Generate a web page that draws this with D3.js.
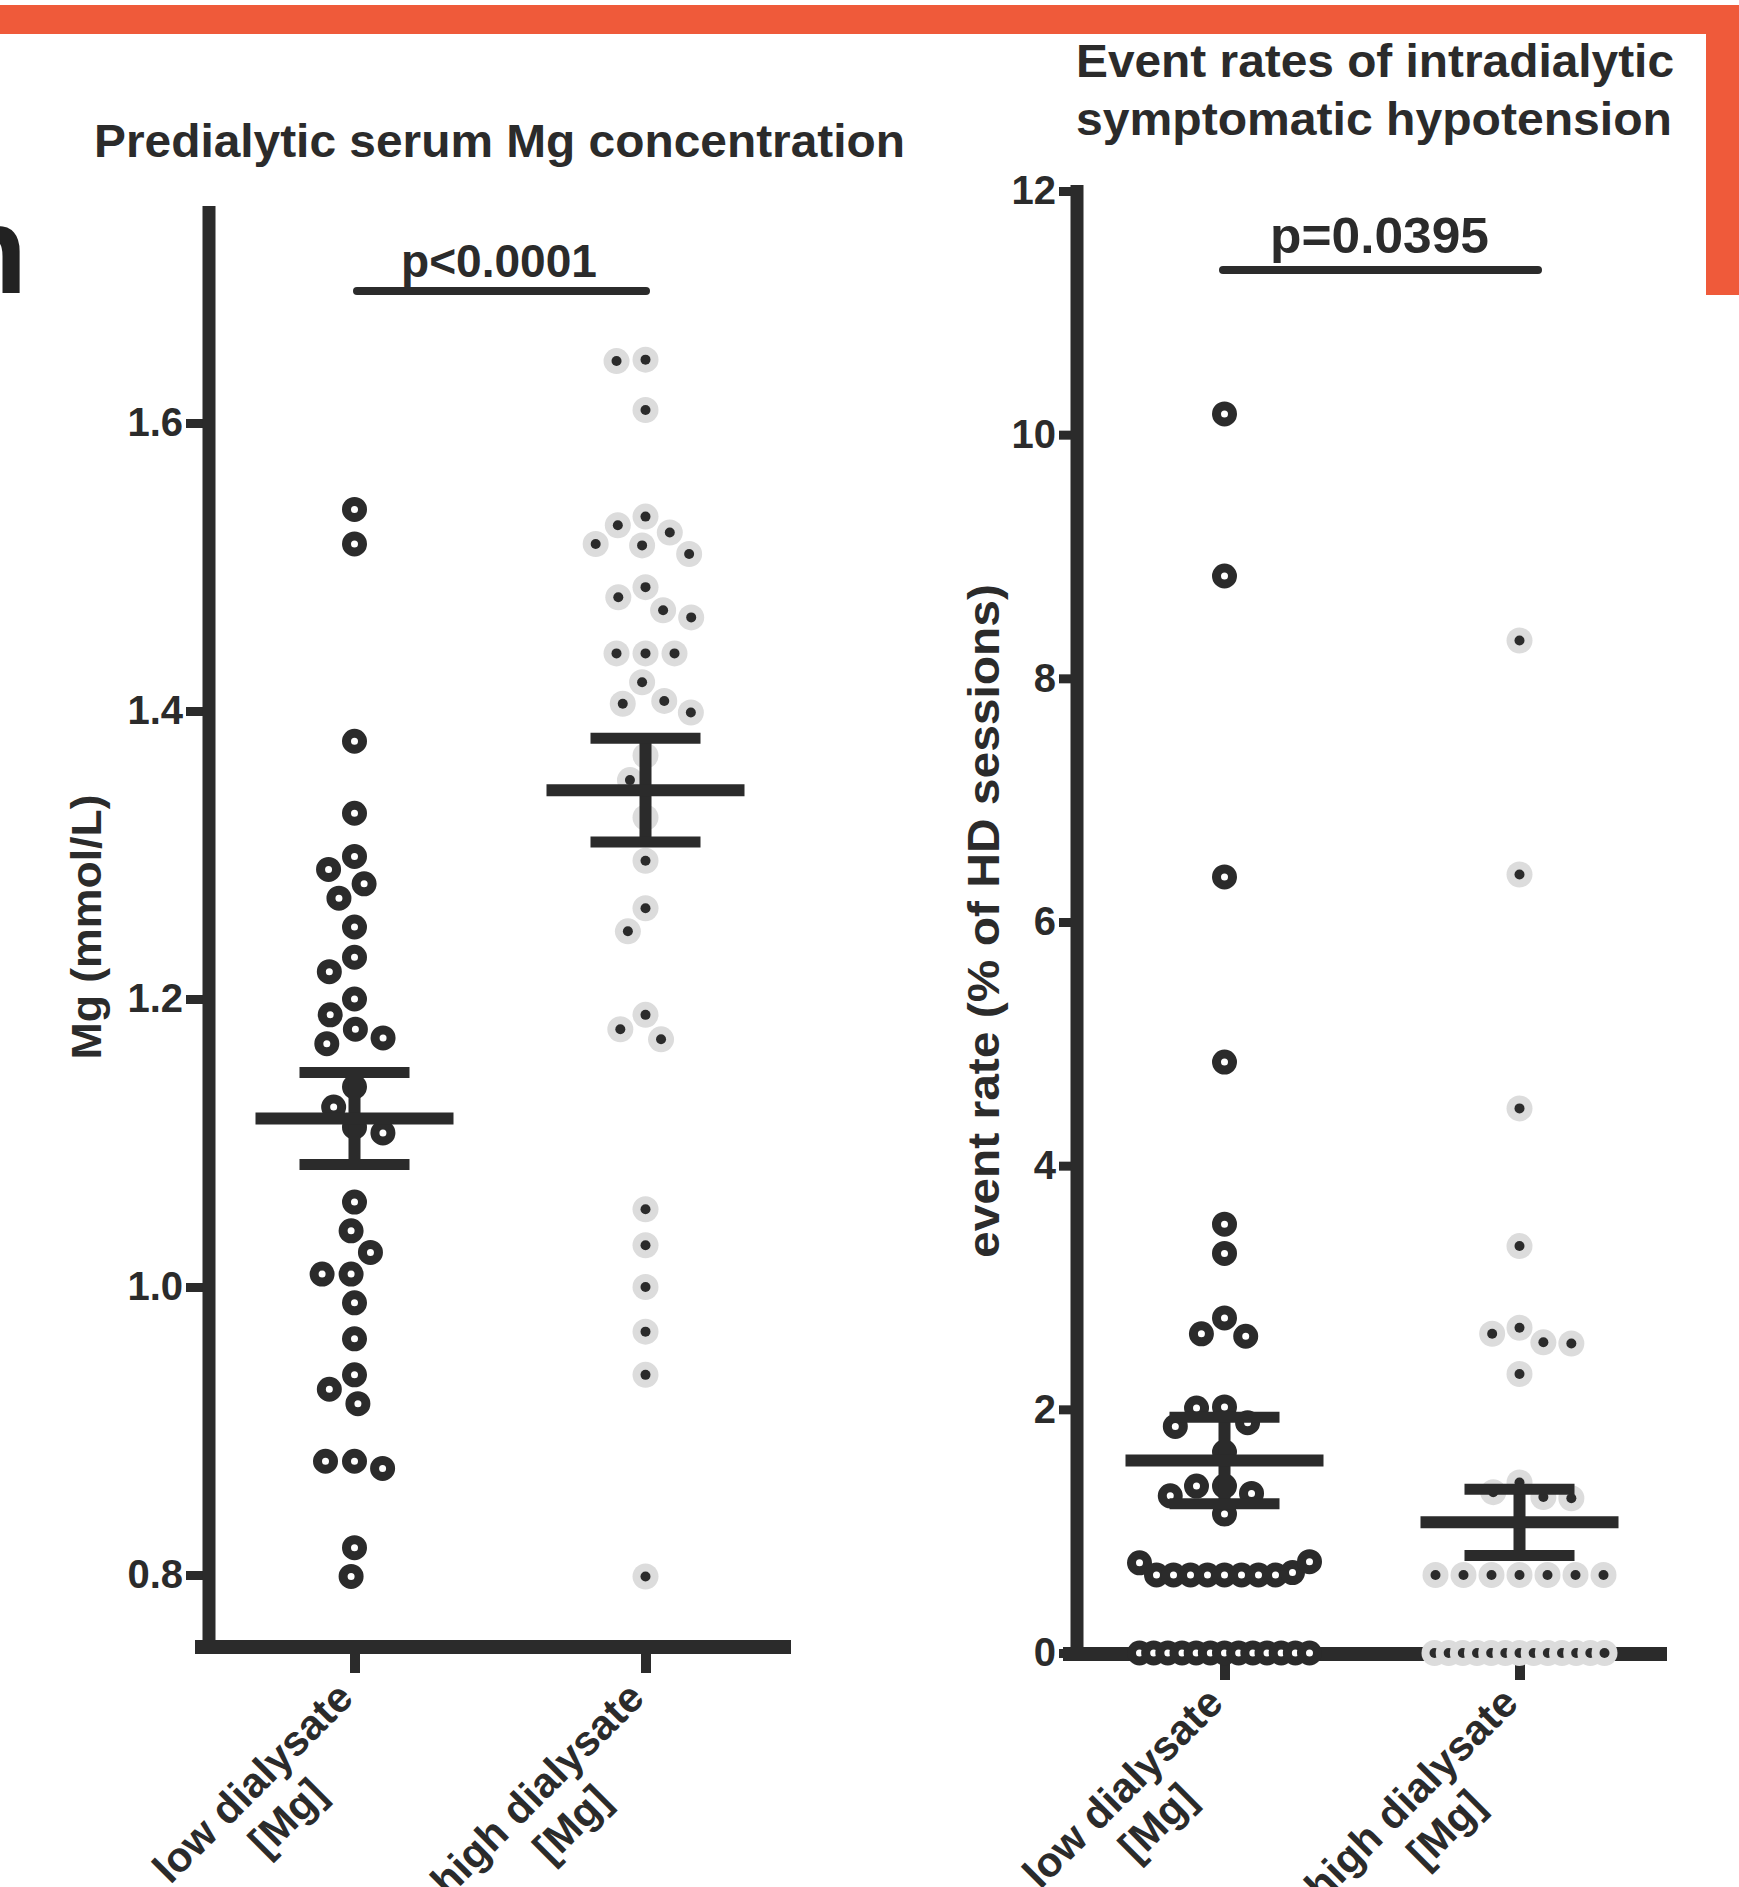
<!DOCTYPE html>
<html>
<head>
<meta charset="utf-8">
<script src="https://cdn.jsdelivr.net/npm/d3@7.9.0/dist/d3.min.js"></script>
<style>
  html, body { margin: 0; padding: 0; background: #fff; }
  svg { display: block; font-family: "Liberation Sans", Arial, sans-serif; }
</style>
</head>
<body>
<script>
// values
const groups = ["low", "high"];
const groupLines = [["low dialysate", "[Mg]"], ["high dialysate", "[Mg]"]];

const mgLow = [1.540, 1.516, 1.379, 1.329, 1.299, 1.290, 1.280, 1.270, 1.250, 1.229, 1.219, 1.200,
  1.189, 1.179, 1.173, 1.169, 1.139, 1.125, 1.111, 1.107, 1.059, 1.039, 1.024, 1.009, 1.009,
  0.989, 0.964, 0.939, 0.929, 0.919, 0.879, 0.879, 0.874, 0.819, 0.799];
const mgHigh = [1.644, 1.643, 1.609, 1.535, 1.529, 1.524, 1.516, 1.515, 1.509, 1.486, 1.479,
  1.470, 1.465, 1.440, 1.440, 1.440, 1.420, 1.407, 1.405, 1.399, 1.369, 1.352, 1.326, 1.296,
  1.263, 1.247, 1.189, 1.179, 1.172, 1.054, 1.029, 1.000, 0.969, 0.939, 0.799];
const mgMean = [1.117, 1.345];
const mgSem = [0.032, 0.036];
const mgTicks = [0.8, 1.0, 1.2, 1.4, 1.6];

const rateLow = [10.17, 8.84, 6.37, 4.85, 3.52, 3.28, 2.75, 2.62, 2.60, 2.02, 2.01, 1.89, 1.86,
  1.65, 1.37, 1.37, 1.31, 1.29, 1.14, 0.75, 0.74, 0.66, 0.64, 0.64, 0.64, 0.64, 0.64, 0.64,
  0.64, 0.64, 0, 0, 0, 0, 0, 0, 0, 0, 0, 0, 0, 0, 0];
const rateHigh = [8.31, 6.39, 4.47, 3.34, 2.67, 2.62, 2.55, 2.54, 2.29, 1.40, 1.32, 1.28, 1.27,
  0.64, 0.64, 0.64, 0.64, 0.64, 0.64, 0.64, 0, 0, 0, 0, 0, 0, 0, 0, 0, 0, 0, 0, 0];
const rateMean = [1.58, 1.073];
const rateSem = [0.355, 0.272];
const rateTicks = [0, 2, 4, 6, 8, 10, 12];

const ink = "#2b2b2b";
const W = 1739, H = 1887;

const svg = d3.select("body").append("svg")
    .attr("width", W)
    .attr("height", H);

// orange frame at the top and right edge
svg.append("rect").attr("x", 0).attr("y", 5).attr("width", W).attr("height", 29).attr("fill", "#ef5a3a");
svg.append("rect").attr("x", 1706).attr("y", 5).attr("width", 33).attr("height", 290).attr("fill", "#ef5a3a");

// cut-off panel letter at the left edge
svg.append("text")
    .attr("x", -49).attr("y", 293)
    .attr("font-size", 125).attr("font-weight", "bold").attr("fill", "#222")
    .text("n");

// simple beeswarm: dense rows get squeezed, everything else is placed greedily
function swarm(values, y, D, halfW) {
    const pts = values.map(v => ({ v, y: y(v), x: 0 })).sort((a, b) => a.y - b.y);
    const clusters = [];
    let i = 0;
    while (i < pts.length) {
        let j = i;
        while (j + 1 < pts.length && pts[j + 1].y - pts[i].y < 14) j++;
        clusters.push(pts.slice(i, j + 1));
        i = j + 1;
    }
    const placed = [];
    clusters.filter(c => c.length >= 6).forEach(c => {
        const n = c.length;
        const s = Math.min(D, 2 * halfW / (n - 1));
        const slots = d3.range(n).map(k => (k - (n - 1) / 2) * s)
            .sort((a, b) => Math.abs(a) - Math.abs(b) || a - b);
        c.slice().sort((a, b) => b.y - a.y).forEach((p, k) => { p.x = slots[k]; placed.push(p); });
    });
    clusters.filter(c => c.length < 6).flat().forEach(p => {
        const cands = [0];
        placed.forEach(q => {
            const dy = Math.abs(q.y - p.y);
            if (dy < D) {
                const dx = Math.sqrt(D * D - dy * dy);
                cands.push(q.x - dx, q.x + dx);
            }
        });
        cands.sort((a, b) => Math.abs(a) - Math.abs(b) || a - b);
        const ok = cands.find(x => placed.every(q => (q.x - x) ** 2 + (q.y - p.y) ** 2 >= D * D - 0.5));
        p.x = ok ?? 0;
        placed.push(p);
    });
    return pts.sort((a, b) => a.x - b.x);
}

function drawPanel(cfg) {
    const g = svg.append("g");
    const x = d3.scalePoint().domain(groups).range([cfg.axisX, cfg.xEnd]).padding(0.5);
    const y = cfg.y;

    // y ticks and labels
    g.append("g")
        .attr("transform", `translate(${cfg.axisX},0)`)
        .call(d3.axisLeft(y).tickValues(cfg.ticks).tickFormat(cfg.fmt).tickSize(cfg.tickSize).tickPadding(3))
        .call(a => a.select(".domain").remove())
        .call(a => a.selectAll(".tick line").attr("stroke", ink).attr("stroke-width", 9))
        .call(a => a.selectAll(".tick text")
            .attr("fill", ink).attr("font-size", 40).attr("font-weight", "bold")
            .attr("font-family", "'Liberation Sans', Arial, sans-serif"));

    // x ticks
    g.append("g")
        .attr("transform", `translate(0,${cfg.xAxisY})`)
        .call(d3.axisBottom(x).tickSize(26).tickFormat(""))
        .call(a => a.select(".domain").remove())
        .call(a => a.selectAll(".tick line").attr("stroke", ink).attr("stroke-width", 10));

    // axis lines
    g.append("line")
        .attr("x1", cfg.axisX).attr("x2", cfg.axisX)
        .attr("y1", cfg.yTop).attr("y2", cfg.xAxisY + 6)
        .attr("stroke", ink).attr("stroke-width", 13);
    g.append("line")
        .attr("x1", cfg.axisX - 14).attr("x2", cfg.xEnd)
        .attr("y1", cfg.xAxisY).attr("y2", cfg.xAxisY)
        .attr("stroke", ink).attr("stroke-width", 14);

    // points
    cfg.data.forEach((vals, i) => {
        const pts = swarm(vals, y, cfg.D, 85);
        const cx = x(groups[i]);
        const dots = g.append("g").selectAll("g")
            .data(pts)
            .join("g")
            .attr("transform", d => `translate(${cx + d.x},${d.y})`);
        if (i === 0) {
            dots.append("circle").attr("r", 8).attr("fill", "#fff")
                .attr("stroke", ink).attr("stroke-width", 9);
        } else {
            dots.append("circle").attr("r", 13).attr("fill", "#dcdcdc");
            dots.append("circle").attr("r", 5).attr("fill", ink);
        }
    });

    // mean and SEM
    groups.forEach((grp, i) => {
        const cx = x(grp);
        const m = cfg.mean[i], s = cfg.sem[i];
        g.append("line")
            .attr("x1", cx).attr("x2", cx).attr("y1", y(m + s)).attr("y2", y(m - s))
            .attr("stroke", ink).attr("stroke-width", 12);
        [m + s, m - s].forEach(v => g.append("line")
            .attr("x1", cx - 55).attr("x2", cx + 55).attr("y1", y(v)).attr("y2", y(v))
            .attr("stroke", ink).attr("stroke-width", 11));
        g.append("line")
            .attr("x1", cx - 99).attr("x2", cx + 99).attr("y1", y(m)).attr("y2", y(m))
            .attr("stroke", ink).attr("stroke-width", 12);
    });

    // rotated category labels
    groups.forEach((grp, i) => {
        const lg = g.append("g")
            .attr("transform", `translate(${x(grp)},${cfg.labelY}) rotate(-45)`)
            .attr("font-size", 42).attr("font-weight", "bold").attr("fill", ink);
        const t1 = lg.append("text").attr("x", -28).attr("y", 29)
            .attr("text-anchor", "end").text(groupLines[i][0]);
        const w1 = t1.node().getComputedTextLength();
        lg.append("text").attr("x", -28 - w1 / 2).attr("y", 78)
            .attr("text-anchor", "middle").text(groupLines[i][1]);
    });

    // y title
    g.append("text")
        .attr("transform", `translate(${cfg.yTitleX},${cfg.yTitleY}) rotate(-90)`)
        .attr("text-anchor", "middle")
        .attr("font-size", cfg.yTitleSize).attr("font-weight", "bold").attr("fill", ink)
        .attr("textLength", cfg.yTitleLen).attr("lengthAdjust", "spacingAndGlyphs")
        .text(cfg.yTitle);

    // significance bar
    g.append("line")
        .attr("x1", cfg.pLine[0]).attr("x2", cfg.pLine[1])
        .attr("y1", cfg.pLineY).attr("y2", cfg.pLineY)
        .attr("stroke", ink).attr("stroke-width", 8).attr("stroke-linecap", "round");
    g.append("text")
        .attr("x", cfg.pX).attr("y", cfg.pY)
        .attr("font-size", cfg.pSize).attr("font-weight", "bold").attr("fill", ink)
        .attr("textLength", cfg.pLen).attr("lengthAdjust", "spacingAndGlyphs")
        .text(cfg.pText);

    // title lines
    cfg.title.forEach((line, k) => g.append("text")
        .attr("x", cfg.titleX).attr("y", cfg.titleY[k])
        .attr("font-size", 46).attr("font-weight", "bold").attr("fill", ink)
        .attr("textLength", cfg.titleLen[k]).attr("lengthAdjust", "spacingAndGlyphs")
        .text(line));
}

drawPanel({
    y: d3.scaleLinear().domain([0.75, 1.75]).range([1647, 207]),
    ticks: mgTicks, fmt: d3.format(".1f"), tickSize: 23,
    axisX: 209, xEnd: 791, yTop: 206, xAxisY: 1647, labelY: 1660,
    data: [mgLow, mgHigh], mean: mgMean, sem: mgSem, D: 29,
    yTitle: "Mg (mmol/L)", yTitleX: 101, yTitleY: 927, yTitleSize: 43, yTitleLen: 265,
    pLine: [357, 646], pLineY: 291, pText: "p<0.0001", pX: 401, pY: 277, pSize: 46, pLen: 196,
    title: ["Predialytic serum Mg concentration"], titleX: 94, titleY: [157], titleLen: [811]
});

drawPanel({
    y: d3.scaleLinear().domain([0, 12]).range([1653, 191]),
    ticks: rateTicks, fmt: d3.format("d"), tickSize: 18,
    axisX: 1077, xEnd: 1667, yTop: 185, xAxisY: 1654, labelY: 1665,
    data: [rateLow, rateHigh], mean: rateMean, sem: rateSem, D: 28,
    yTitle: "event rate (% of HD sessions)", yTitleX: 999, yTitleY: 921, yTitleSize: 45, yTitleLen: 674,
    pLine: [1223, 1538], pLineY: 270, pText: "p=0.0395", pX: 1270, pY: 253, pSize: 50, pLen: 219,
    title: ["Event rates of intradialytic", "symptomatic hypotension"], titleX: 1076,
    titleY: [77, 135], titleLen: [598, 596]
});
</script>
</body>
</html>
